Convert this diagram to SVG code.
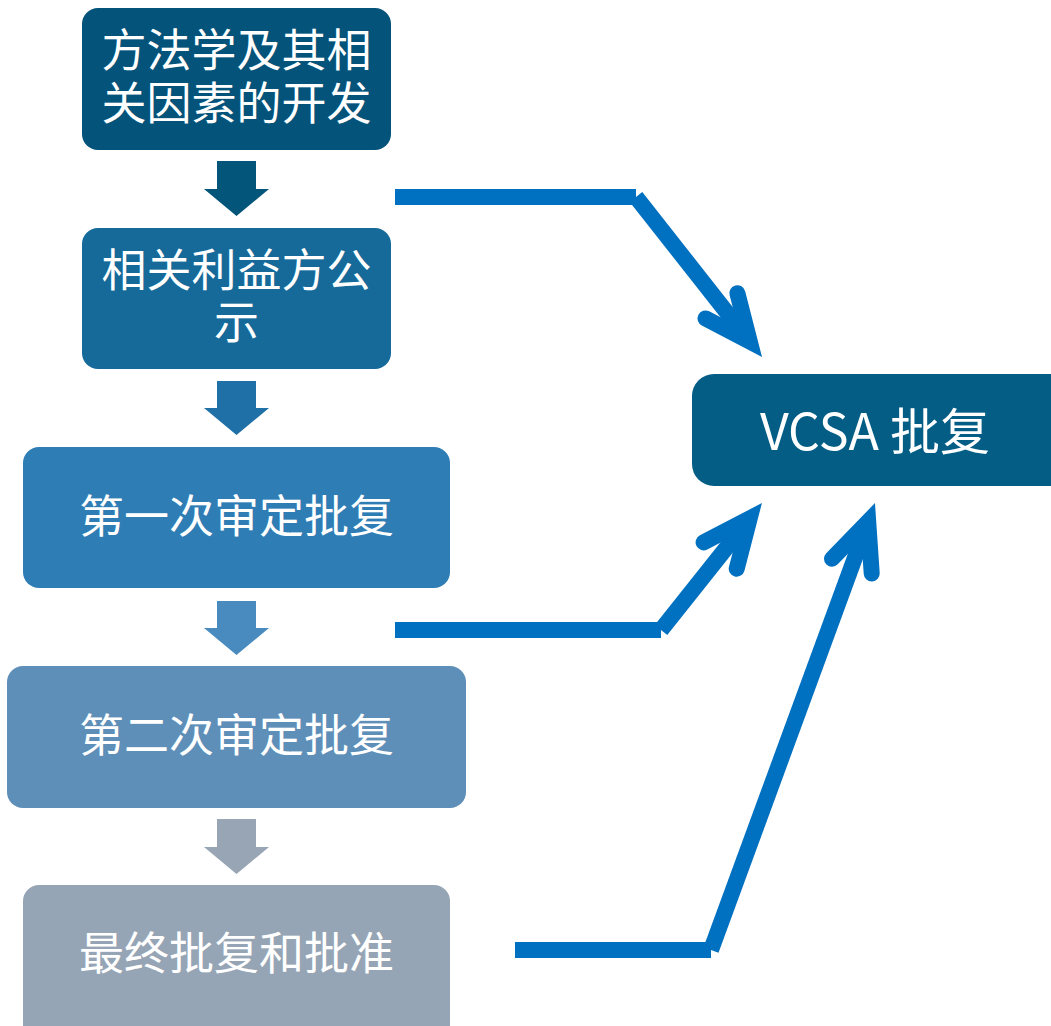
<svg xmlns="http://www.w3.org/2000/svg" width="1051" height="1026" viewBox="0 0 1051 1026">
<style>
.t{font-family:"Noto Sans CJK SC","Noto Sans",sans-serif;fill:#ffffff;font-size:45px;text-anchor:middle}
.v{font-size:50px}
.c{fill:none;stroke:#0070C0;stroke-width:16}
.h{fill:none;stroke:#0070C0;stroke-width:16;stroke-linecap:round;stroke-linejoin:miter;stroke-miterlimit:4}
</style>
<rect width="1051" height="1026" fill="#ffffff"/>
<g id="n1"><rect x="82" y="8" width="309" height="142" rx="16" fill="#04537A"/><text class="t" x="236.5" y="67">方法学及其相</text><text class="t" x="236.5" y="120">关因素的开发</text></g>
<g id="a1"><polygon points="217,161 256,161 256,189 269,189 236.5,216 204,189 217,189" fill="#04557A"/></g>
<g id="n2"><rect x="82" y="228" width="309" height="141" rx="16" fill="#156A9A"/><text class="t" x="236.5" y="287">相关利益方公</text><text class="t" x="236.5" y="339">示</text></g>
<g id="a2"><polygon points="217,381 256,381 256,408 269,408 236.5,435 204,408 217,408" fill="#1F70A6"/></g>
<g id="n3"><rect x="23" y="447" width="427" height="141" rx="16" fill="#2F7DB5"/><text class="t" x="236.5" y="533">第一次审定批复</text></g>
<g id="a3"><polygon points="217,601 256,601 256,628 269,628 236.5,655 204,628 217,628" fill="#4A8BBF"/></g>
<g id="n4"><rect x="7" y="666" width="459" height="142" rx="16" fill="#5E8FB8"/><text class="t" x="236.5" y="752">第二次审定批复</text></g>
<g id="a4"><polygon points="217,819 256,819 256,847 269,847 236.5,874 204,847 217,847" fill="#97A5B5"/></g>
<g id="n5"><rect x="23" y="885" width="427" height="160" rx="16" fill="#96A5B5"/><text class="t" x="236.5" y="970">最终批复和批准</text></g>
<g id="n6"><rect x="692" y="374" width="380" height="112" rx="22" fill="#035D85"/><text class="t v" x="875" y="450">VCSA 批复</text></g>
<g id="connectors">
<line class="c" x1="395" y1="197" x2="636" y2="197"/>
<line class="c" x1="636" y1="197" x2="749.8" y2="341.6"/>
<polyline class="h" points="737.4,293.2 749.8,341.6 705.5,318.4"/>
<line class="c" x1="395" y1="630" x2="661" y2="630"/>
<line class="c" x1="661" y1="630" x2="749.7" y2="518.4"/>
<polyline class="h" points="703.6,542.4 749.7,518.4 736.7,568.7"/>
<line class="c" x1="515" y1="950" x2="711" y2="950"/>
<line class="c" x1="711" y1="950" x2="868.2" y2="521.5"/>
<polyline class="h" points="832,558.8 868.2,521.5 871.7,573.4"/>
</g>
</svg>
